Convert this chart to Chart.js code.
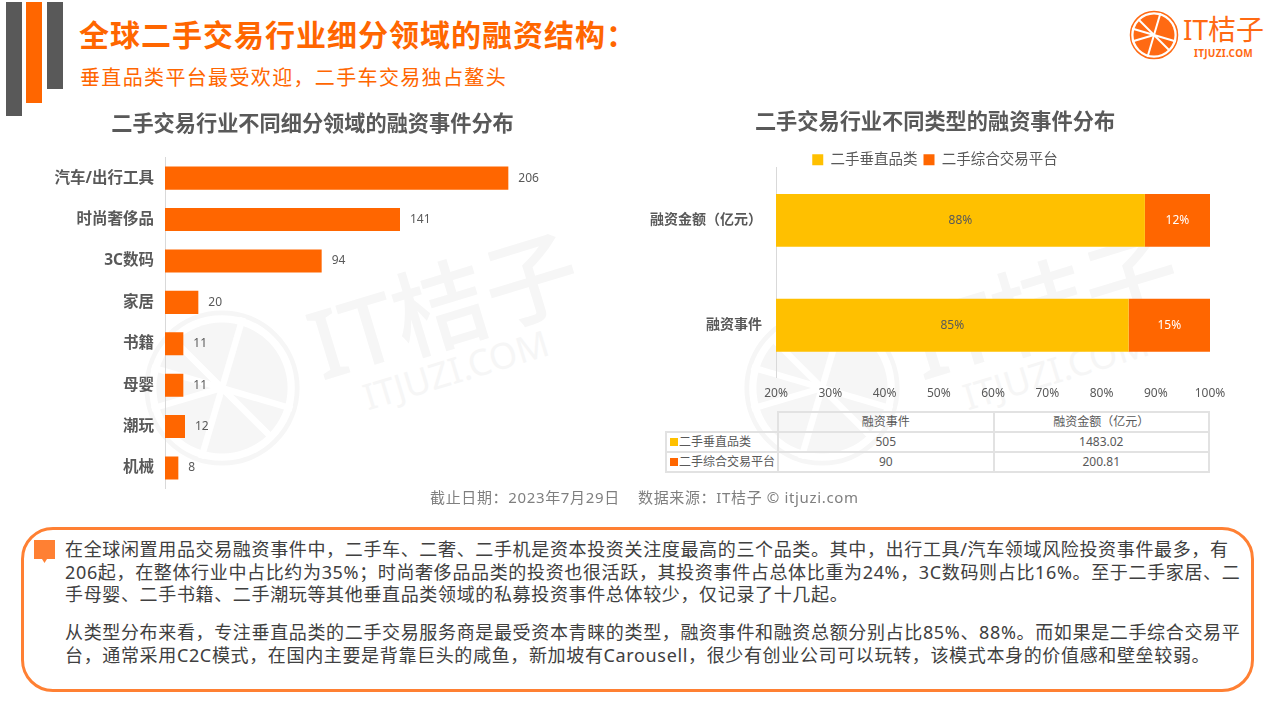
<!DOCTYPE html>
<html lang="zh-CN">
<head>
<meta charset="utf-8">
<script src="https://cdn.jsdelivr.net/npm/chart.js@4"></script>
<style>
  html, body { margin: 0; padding: 0; background: #fff; }
  body { position: relative; width: 1280px; height: 720px; overflow: hidden; font-family: "Noto Sans", "Noto Sans CJK SC", sans-serif; color: #595959; }
  .abs { position: absolute; }
  .line { position: absolute; left: 65px; white-space: nowrap; font-size: 18px; line-height: 24px; color: #404040; letter-spacing: .65px; }
  #table1 { position: absolute; left: 665px; top: 411px; width: 545px; height: 59px; border-collapse: collapse; font-size: 12px; color: #595959; table-layout: fixed; }
  #table1 td { border: 2px solid #e2e2e2; text-align: center; padding: 0; height: 18px; line-height: 16px; }
  #table1 td.blank { border-left: 0; border-top: 0; }
  #table1 td.name { text-align: left; padding-left: 3px; white-space: nowrap; }
  #table1 i { display: inline-block; width: 8px; height: 8px; margin-right: 1px; }
</style>
</head>
<body>
<svg width="0" height="0" style="position:absolute">
  <symbol id="slice" viewBox="-50 -50 100 100">
    <circle r="47" fill="none" stroke="currentColor" stroke-width="3"/>
    <circle r="41" fill="currentColor"/>
    <g stroke="#fff" stroke-width="4">
      <line x1="-44" y1="-13" x2="44" y2="13"/>
      <line x1="-13" y1="44" x2="13" y2="-44"/>
      <line x1="-31" y1="-31" x2="31" y2="31"/>
      <line x1="-44" y1="13" x2="0" y2="0"/>
    </g>
  </symbol>
</svg>

<!-- watermarks -->
<div class="abs" style="left:0;top:0;color:#f6f6f6">
  <svg class="abs" style="left:142px;top:308px;color:#f6f6f6" width="160" height="160"><use href="#slice"/></svg>
  <div class="abs" style="left:305px;top:250px;font-size:95px;line-height:110px;font-weight:500;white-space:nowrap;transform:rotate(-17deg)">IT桔子</div>
  <div class="abs" style="left:360px;top:348px;font-size:36px;line-height:44px;white-space:nowrap;transform:rotate(-17deg)">ITJUZI.COM</div>
  <svg class="abs" style="left:742px;top:308px;color:#f6f6f6" width="160" height="160"><use href="#slice"/></svg>
  <div class="abs" style="left:905px;top:250px;font-size:95px;line-height:110px;font-weight:500;white-space:nowrap;transform:rotate(-17deg)">IT桔子</div>
  <div class="abs" style="left:960px;top:348px;font-size:36px;line-height:44px;white-space:nowrap;transform:rotate(-17deg)">ITJUZI.COM</div>
</div>

<!-- header -->
<div class="abs" style="left:6px;top:2px;width:16px;height:114px;background:#595959"></div>
<div class="abs" style="left:26px;top:2px;width:16px;height:101px;background:#ff6600"></div>
<div class="abs" style="left:47px;top:2px;width:16px;height:87px;background:#595959"></div>
<div class="abs" style="left:79px;top:14px;font-size:30px;line-height:42px;font-weight:700;color:#ff6600;white-space:nowrap;letter-spacing:1px">全球二手交易行业细分领域的融资结构&#65306;</div>
<div class="abs" style="left:80px;top:63px;font-size:20px;line-height:30px;color:#ff6600;white-space:nowrap;letter-spacing:1.35px">垂直品类平台最受欢迎&#65292;二手车交易独占鳌头</div>

<!-- logo -->
<svg class="abs" style="left:1129px;top:10px;color:#ff6a13" width="50" height="50"><use href="#slice"/></svg>
<div class="abs" style="left:1183px;top:10px;font-size:28px;line-height:38px;color:#ff6a13;white-space:nowrap">IT桔子</div>
<div class="abs" style="left:1194px;top:46px;font-size:10px;line-height:14px;font-weight:700;color:#ff6a13;white-space:nowrap;letter-spacing:.3px">ITJUZI.COM</div>

<!-- charts -->
<div class="abs" style="left:40px;top:100px;width:545px;height:409px"><canvas id="chartFields"></canvas></div>
<div class="abs" style="left:640px;top:100px;width:590px;height:302px"><canvas id="chartTypes"></canvas></div>

<table id="table1"><tbody id="tableBody"></tbody></table>

<div class="abs" style="left:430px;top:486px;font-size:15px;line-height:22px;color:#7f7f7f;white-space:nowrap;letter-spacing:.65px">截止日期&#65306;2023年7月29日&nbsp;&nbsp;&nbsp;&nbsp;数据来源&#65306;IT桔子 © itjuzi.com</div>

<!-- commentary box -->
<div class="abs" style="left:21px;top:527px;width:1227px;height:159px;border:3px solid #ff8033;border-radius:32px"></div>
<svg class="abs" style="left:33px;top:539px" width="23" height="25"><path d="M1 1H22V20H14L11.500 24L9 20H1Z" fill="#ff8033"/></svg>
<div class="line" style="top:537px">在全球闲置用品交易融资事件中&#65292;二手车、二奢、二手机是资本投资关注度最高的三个品类。其中&#65292;出行工具/汽车领域风险投资事件最多&#65292;有</div>
<div class="line" style="top:560px">206起&#65292;在整体行业中占比约为35%&#65307;时尚奢侈品品类的投资也很活跃&#65292;其投资事件占总体比重为24%&#65292;3C数码则占比16%。至于二手家居、二</div>
<div class="line" style="top:582px">手母婴、二手书籍、二手潮玩等其他垂直品类领域的私募投资事件总体较少&#65292;仅记录了十几起。</div>
<div class="line" style="top:620px">从类型分布来看&#65292;专注垂直品类的二手交易服务商是最受资本青睐的类型&#65292;融资事件和融资总额分别占比85%、88%。而如果是二手综合交易平</div>
<div class="line" style="top:643px">台&#65292;通常采用C2C模式&#65292;在国内主要是背靠巨头的咸鱼&#65292;新加坡有Carousell&#65292;很少有创业公司可以玩转&#65292;该模式本身的价值感和壁垒较弱。</div>

<script>
  /* ── Data ── */
  const fieldNames = ["汽车/出行工具", "时尚奢侈品", "3C数码", "家居", "书籍", "母婴", "潮玩", "机械"];
  const fieldEvents = [206, 141, 94, 20, 11, 11, 12, 8];

  const typeNames = ["融资金额\uFF08亿元\uFF09", "融资事件"];
  const verticalShare = [88, 85];
  const generalShare = [12, 15];
  const shareTicks = [20, 30, 40, 50, 60, 70, 80, 90, 100];

  const tableHeads = ["融资事件", "融资金额\uFF08亿元\uFF09"];
  const verticalLabel = "二手垂直品类";
  const generalLabel = "二手综合交易平台";
  const verticalTotals = ["505", "1483.02"];
  const generalTotals = ["90", "200.81"];

  /* ── Shared styles ── */
  const ORANGE = "#ff6600", YELLOW = "#ffc000", GREY = "#595959", AXIS = "#d9d9d9";
  const FONT = '"Noto Sans", "Noto Sans CJK SC", sans-serif';
  Chart.defaults.font.family = FONT;
  Chart.defaults.color = GREY;
  Chart.defaults.animation = false;
  Chart.defaults.responsive = true;
  Chart.defaults.maintainAspectRatio = false;

  // value labels next to / inside the bars
  const barLabels = {
    id: "barLabels",
    afterDatasetsDraw(chart, args, opts) {
      const ctx = chart.ctx;
      ctx.save();
      ctx.font = `12px ${FONT}`;
      ctx.textBaseline = "middle";
      chart.data.datasets.forEach((ds, i) => {
        chart.getDatasetMeta(i).data.forEach((bar, j) => {
          if (opts.inside) {
            const left = Math.max(bar.base, chart.chartArea.left);
            ctx.textAlign = "center";
            ctx.fillStyle = ds.labelColor;
            ctx.fillText(ds.data[j] + "%", (left + bar.x) / 2, bar.y);
          } else {
            ctx.textAlign = "left";
            ctx.fillStyle = GREY;
            ctx.fillText(ds.data[j], bar.x + 10, bar.y);
          }
        });
      });
      ctx.restore();
    }
  };

  // the legend sits closer to the bars than Chart.js leaves by default
  const tightLegend = {
    id: "tightLegend",
    beforeLayout(chart) {
      const legend = chart.legend;
      if (legend._tight) return;
      const fit = legend.fit;
      legend.fit = function () { fit.call(this); this.height -= 9; };
      legend._tight = true;
    }
  };

  // fixed axis width; labels may run past it into the left padding, so no clipping
  const fixAxisWidth = w => s => { s.width = w; s._computeLabelArea = () => null; };

  /* ── Left chart ── */
  new Chart(document.getElementById("chartFields"), {
    type: "bar",
    plugins: [barLabels],
    data: {
      labels: fieldNames,
      datasets: [{ data: fieldEvents, backgroundColor: ORANGE, categoryPercentage: 1, barPercentage: .557 }],
    },
    options: {
      indexAxis: "y",
      layout: { padding: { left: 20, right: 20, bottom: 4 } },
      plugins: {
        legend: { display: false },
        tooltip: { enabled: false },
        title: { display: true, text: "二手交易行业不同细分领域的融资事件分布", color: GREY, font: { size: 21.2, weight: "bold" }, padding: { top: 12, bottom: 20 } },
        barLabels: { inside: false },
      },
      scales: {
        x: { display: false, min: 0, max: 240 },
        y: {
          afterFit: fixAxisWidth(105),
          ticks: { color: GREY, font: { size: 15.5, weight: "bold" }, padding: 11 },
          grid: { display: true, drawOnChartArea: false, drawTicks: false },
          border: { color: AXIS },
        },
      },
    },
  });

  /* ── Right chart ── */
  new Chart(document.getElementById("chartTypes"), {
    type: "bar",
    plugins: [barLabels, tightLegend],
    data: {
      labels: typeNames,
      datasets: [
        { label: verticalLabel, data: verticalShare, backgroundColor: YELLOW, labelColor: GREY, categoryPercentage: 1, barPercentage: .505 },
        { label: generalLabel, data: generalShare, backgroundColor: ORANGE, labelColor: "#fff", categoryPercentage: 1, barPercentage: .505 },
      ],
    },
    options: {
      indexAxis: "y",
      layout: { padding: { left: 20, right: 20 } },
      plugins: {
        tooltip: { enabled: false },
        title: { display: true, text: "二手交易行业不同类型的融资事件分布", color: GREY, font: { size: 21.2, weight: "bold" }, padding: { top: 10, bottom: 11 } },
        legend: { position: "top", labels: { boxWidth: 11, boxHeight: 11, padding: 6, color: GREY, font: { size: 14.5 } } },
        barLabels: { inside: true },
      },
      scales: {
        x: {
          stacked: true, min: 20, max: 100,
          afterBuildTicks(s) { s.ticks = shareTicks.map(v => ({ value: v })); },
          ticks: { color: GREY, font: { size: 12 }, padding: 1, maxRotation: 0, autoSkip: false, callback: v => v + "%" },
          grid: { display: false },
          border: { display: false },
        },
        y: {
          stacked: true,
          afterFit: fixAxisWidth(116),
          ticks: { color: GREY, font: { size: 14, weight: "bold" }, padding: 14 },
          grid: { display: true, drawOnChartArea: false, drawTicks: false },
          border: { color: AXIS },
        },
      },
    },
  });

  /* ── Data table under the right chart ── */
  const swatch = c => `<i style="background:${c}"></i>`;
  document.getElementById("tableBody").innerHTML = `
    <tr><td class="blank" style="width:111px"></td><td>${tableHeads[0]}</td><td>${tableHeads[1]}</td></tr>
    <tr><td class="name">${swatch(YELLOW)}${verticalLabel}</td><td>${verticalTotals[0]}</td><td>${verticalTotals[1]}</td></tr>
    <tr><td class="name">${swatch(ORANGE)}${generalLabel}</td><td>${generalTotals[0]}</td><td>${generalTotals[1]}</td></tr>`;
</script>
</body>
</html>
